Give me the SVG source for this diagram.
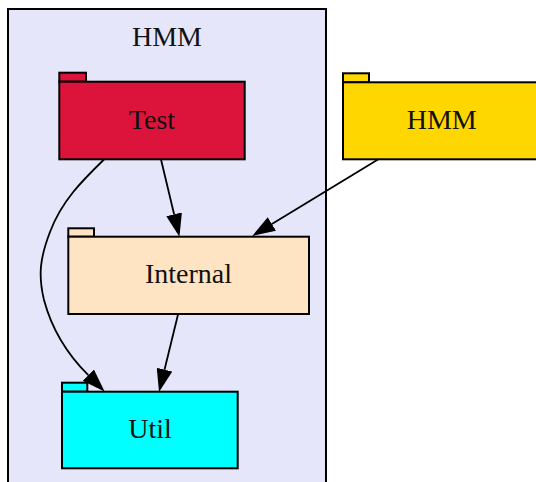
<svg xmlns="http://www.w3.org/2000/svg" width="536" height="482" viewBox="0 0 536 482">
  <style>
    .box { stroke: #000; stroke-width: 2; }
    .lbl { font-family: "Liberation Serif", "Times New Roman", serif; font-size: 28px; fill: #111; text-anchor: middle; }
    .edge { fill: none; stroke: #000; stroke-width: 1.8; }
  </style>
  <defs>
    <marker id="arrow" viewBox="0 0 23 16" refX="0" refY="8" markerWidth="23" markerHeight="16" markerUnits="userSpaceOnUse" orient="auto">
      <path d="M0,0 L23,8 L0,16 z" fill="#000"/>
    </marker>
  </defs>

  <!-- package cluster -->
  <g id="cluster_HMM">
    <rect x="8" y="9" width="318" height="490" fill="#e6e6fa" class="box"/>
    <text x="167" y="45.5" class="lbl">HMM</text>
  </g>

  <g id="Test">
    <rect x="59.3" y="72.7" width="26.7" height="9" fill="#dc143c" class="box"/>
    <rect x="59.3" y="81.7" width="185.4" height="77.6" fill="#dc143c" class="box"/>
    <text x="152" y="129.3" class="lbl">Test</text>
  </g>

  <g id="Internal">
    <rect x="68.3" y="228.3" width="25.7" height="8.4" fill="#ffe4c4" class="box"/>
    <rect x="68.3" y="236.7" width="240.7" height="77.3" fill="#ffe4c4" class="box"/>
    <text x="188.5" y="282.7" class="lbl">Internal</text>
  </g>

  <g id="Util">
    <rect x="62" y="382.7" width="25.3" height="9" fill="#00ffff" class="box"/>
    <rect x="62" y="391.7" width="175.7" height="76.6" fill="#00ffff" class="box"/>
    <text x="150" y="438.3" class="lbl">Util</text>
  </g>

  <g id="HMM">
    <rect x="343" y="73.3" width="26" height="9" fill="#ffd700" class="box"/>
    <rect x="343" y="82.3" width="197" height="77" fill="#ffd700" class="box"/>
    <text x="441.7" y="129.3" class="lbl">HMM</text>
  </g>

  <!-- dependencies -->
  <g id="edges">
    <path class="edge" marker-end="url(#arrow)" d="M161,159.5 L174.1,214.3"/>
    <path class="edge" marker-end="url(#arrow)" d="M378,159.5 L271.9,224"/>
    <path class="edge" marker-end="url(#arrow)" d="M178,314.5 L164.5,369.7"/>
    <path class="edge" marker-end="url(#arrow)" d="M104,159.5 C84,179 62,200 50,232 C40,258 38,275 44,300 C52,330 68,355 88.3,375.2"/>
  </g>
</svg>
